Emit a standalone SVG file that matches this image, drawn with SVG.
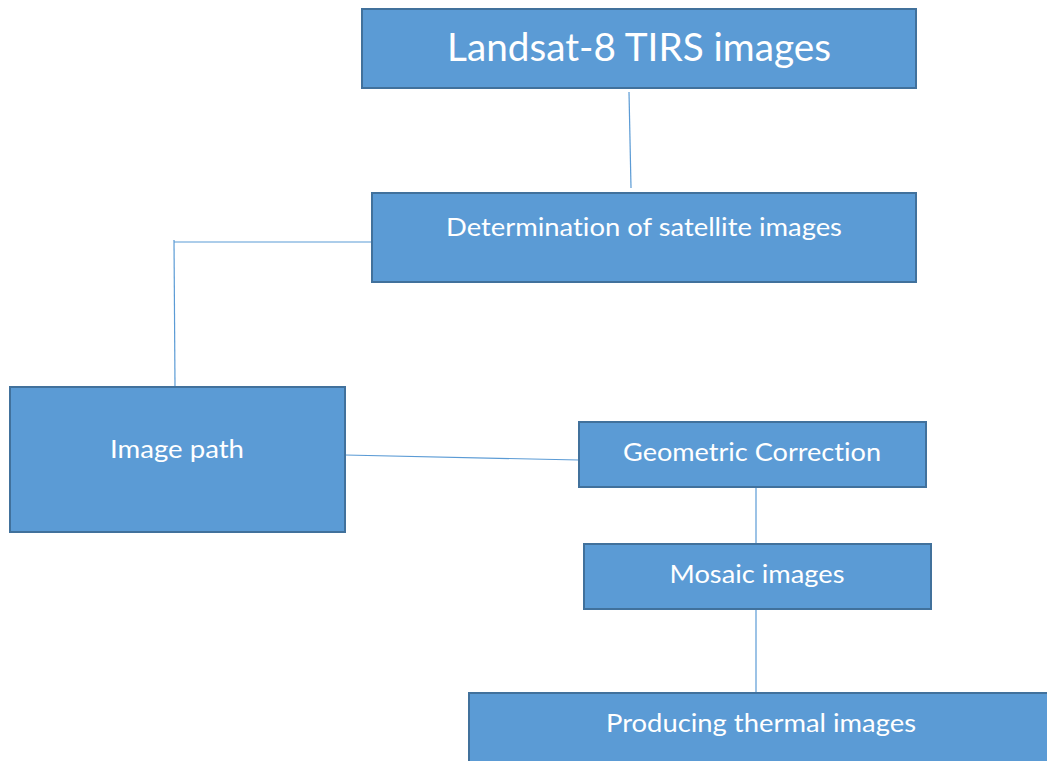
<svg xmlns="http://www.w3.org/2000/svg" width="1047" height="761" viewBox="0 0 1047 761">
<style>
.box{fill:#5B9BD5;stroke:#41719C;stroke-width:2}
.lbl{fill:#FFFFFF;font-family:Lato,"Open Sans","Liberation Sans",sans-serif;font-size:25px;text-anchor:middle;font-variant-ligatures:none}
.big{font-size:39px}
.con{stroke:#5B9BD5;stroke-width:1.2;fill:none}
</style>
<rect width="1047" height="761" fill="#FFFFFF"/>
<g id="connectors">
<line class="con" x1="629" y1="92" x2="631" y2="188"/>
<line class="con" x1="174" y1="242" x2="372" y2="242"/>
<line class="con" x1="174" y1="240" x2="175" y2="387"/>
<line class="con" x1="345" y1="455" x2="579" y2="460"/>
<line class="con" x1="756" y1="487" x2="756" y2="544"/>
<line class="con" x1="756" y1="609" x2="756" y2="693"/>
</g>
<g id="n1">
<rect class="box" x="362" y="9" width="554" height="79"/>
<text class="lbl big" x="639" y="61" textLength="384" lengthAdjust="spacingAndGlyphs">Landsat-8 TIRS images</text>
</g>
<g id="n2">
<rect class="box" x="372" y="193" width="544" height="89"/>
<text class="lbl" x="644" y="236" textLength="396" lengthAdjust="spacingAndGlyphs">Determination of satellite images</text>
</g>
<g id="n3">
<rect class="box" x="10" y="387" width="335" height="145"/>
<text class="lbl" x="177" y="458" textLength="134" lengthAdjust="spacingAndGlyphs">Image path</text>
</g>
<g id="n4">
<rect class="box" x="579" y="422" width="347" height="65"/>
<text class="lbl" x="752" y="461" textLength="258" lengthAdjust="spacingAndGlyphs">Geometric Correction</text>
</g>
<g id="n5">
<rect class="box" x="584" y="544" width="347" height="65"/>
<text class="lbl" x="757" y="583" textLength="175" lengthAdjust="spacingAndGlyphs">Mosaic images</text>
</g>
<g id="n6">
<rect class="box" x="469" y="693" width="590" height="80"/>
<text class="lbl" x="761" y="732" textLength="310" lengthAdjust="spacingAndGlyphs">Producing thermal images</text>
</g>
</svg>
